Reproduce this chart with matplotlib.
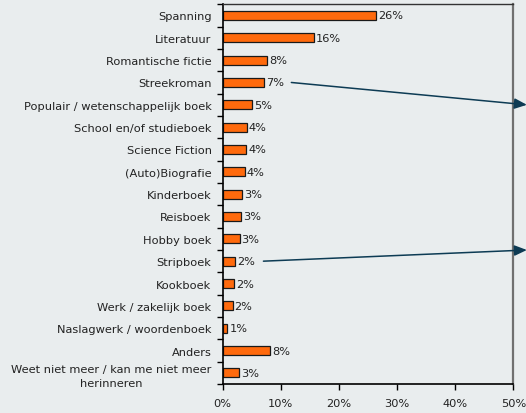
import matplotlib
matplotlib.use("Agg")
import matplotlib.pyplot as plt
import numpy as np

categories = ["Spanning", "Literatuur", "Romantische fictie", "Streekroman",
              "Populair / wetenschappelijk boek", "School en/of studieboek",
              "Science Fiction", "(Auto)Biografie", "Kinderboek", "Reisboek",
              "Hobby boek", "Stripboek", "Kookboek", "Werk / zakelijk boek",
              "Naslagwerk / woordenboek", "Anders",
              "Weet niet meer / kan me niet meer\nherinneren"]
values = [26.3, 15.7, 7.7, 7.1, 5.0, 4.1, 4.0, 3.8, 3.3, 3.1, 2.9, 2.1, 1.9, 1.7, 0.8, 8.1, 2.75]
labels = ["26%", "16%", "8%", "7%", "5%", "4%", "4%", "4%", "3%", "3%", "3%",
          "2%", "2%", "2%", "1%", "8%", "3%"]
xticks = [0, 10, 20, 30, 40, 50]
xticklabels = ["0%", "10%", "20%", "30%", "40%", "50%"]

bg = "#e9edee"
fig = plt.figure(figsize=(5.26, 4.14), dpi=100, facecolor=bg)
ax = fig.add_axes([0.4234, 0.070, 0.9762 - 0.4234, 0.9872 - 0.070])
ax.set_facecolor(bg)

y = np.arange(len(categories))
ax.barh(y, values, height=0.4, color="#ff6a0d", edgecolor="#1a1a1a", linewidth=0.9)
for yi, v, lab in zip(y, values, labels):
    ax.text(v + 0.35, yi, lab, va="center", ha="left", fontsize=8.2, color="#222222")

ax.set_xlim(0, 50)
ax.set_ylim(len(categories) - 0.5, -0.5)
ax.set_xticks(xticks)
ax.set_xticklabels(xticklabels, fontsize=8.2, color="#222222")
ax.set_yticks(y)
ax.set_yticklabels(categories, fontsize=8.2, color="#222222", multialignment="center",
                   linespacing=1.5)
ax.set_yticks(np.arange(len(categories) + 1) - 0.5, minor=True)
ax.tick_params(axis="y", which="major", length=0, pad=8)
ax.tick_params(axis="y", which="minor", length=4, width=1, color="black", direction="out")
ax.tick_params(axis="x", length=4, width=1, color="black", direction="out", pad=6)

ax.spines["left"].set_color("black")
ax.spines["left"].set_linewidth(1.2)
ax.spines["bottom"].set_color("black")
ax.spines["bottom"].set_linewidth(1.2)
ax.spines["top"].set_color("#333333")
ax.spines["top"].set_linewidth(1.0)
ax.spines["right"].set_color("#707070")
ax.spines["right"].set_linewidth(1.6)

arrow_color = "#0d3b54"
ax.annotate("", xy=(52.3, 4.0), xytext=(11.8, 3.0), xycoords="data", textcoords="data",
            annotation_clip=False,
            arrowprops=dict(arrowstyle="-|>,head_length=0.75,head_width=0.32",
                            color=arrow_color, lw=1.1, shrinkA=0, shrinkB=0))
ax.annotate("", xy=(52.3, 10.5), xytext=(7.0, 11.0), xycoords="data", textcoords="data",
            annotation_clip=False,
            arrowprops=dict(arrowstyle="-|>,head_length=0.75,head_width=0.32",
                            color=arrow_color, lw=1.1, shrinkA=0, shrinkB=0))

fig.savefig("out.png", dpi=100, facecolor=bg)
